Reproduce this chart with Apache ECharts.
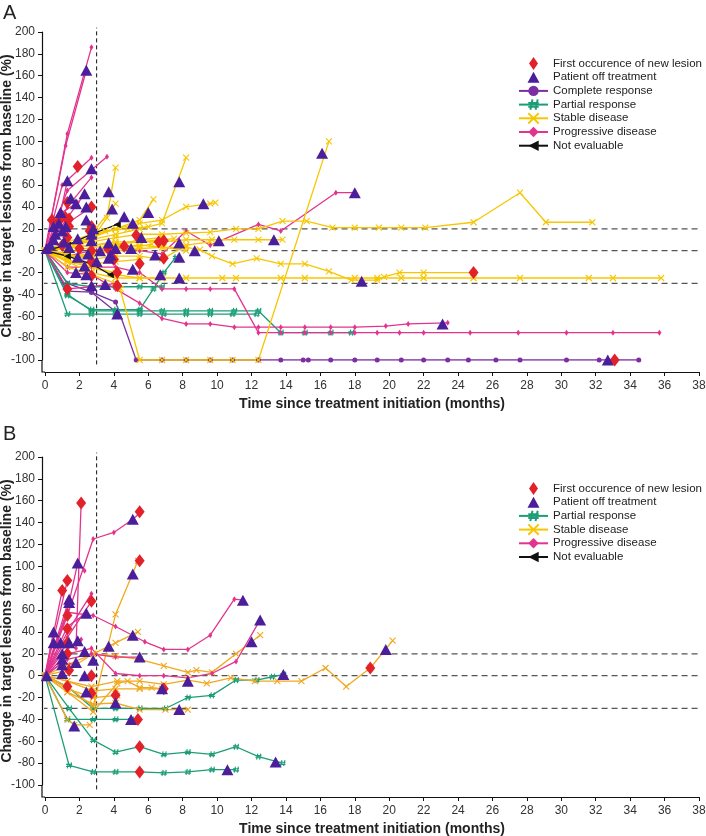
<!DOCTYPE html>
<html>
<head>
<meta charset="utf-8">
<script src="https://cdn.jsdelivr.net/npm/echarts@6/dist/echarts.min.js"></script>
<style>
  html, body { margin: 0; padding: 0; background: #fff; }
  #chart { width: 706px; height: 836px; }
</style>
</head>
<body>
<div id="chart"></div>
<script>
// ---- panel A data (months, % change) ----
const aComplete = [
  [[0,0],[1.3,-37],[2.7,-38],[4.1,-47],[5.3,-100],[6.8,-100],[8.2,-100],[9.6,-100],[10.9,-100],[12.4,-100],[13.7,-100],[15.0,-100],[15.3,-100],[16.6,-100],[18.0,-100],[19.3,-100],[20.7,-100],[22.0,-100],[23.4,-100],[24.6,-100],[26.2,-100],[27.6,-100],[30.3,-100],[32.2,-100],[34.5,-100]],
  [[0,0],[1.3,-30],[2.7,-38],[4.2,-57]]
];
const aPartial = [
  [[0,0],[1.3,-40],[2.7,-55],[4.1,-55],[5.5,-55],[6.8,-55],[8.2,-55],[9.6,-55],[11.0,-55],[12.4,-55],[13.7,-75],[15.1,-75],[16.6,-75],[17.8,-75]],
  [[0,0],[1.3,-58],[2.7,-58],[4.1,-58],[5.5,-58],[6.9,-58],[8.2,-58],[9.6,-58],[10.9,-58],[12.3,-58]],
  [[0,0],[1.3,-41],[2.7,-54],[4.1,-54],[5.5,-54],[6.3,-35],[6.9,-20],[7.6,-6]],
  [[0,0],[1.3,-30],[2.7,-33],[4.1,-33],[5.5,-33],[6.8,-33]]
];
const aStable = [
  [[0,0],[1.3,5],[2.7,8],[4.1,12],[5.5,15],[6.8,15],[8.2,16],[9.6,17],[11.1,20],[12.4,20],[13.8,27],[15.2,27],[16.7,21],[18.0,21],[19.4,21],[20.7,21],[22.1,21],[24.9,26],[27.6,53],[29.1,26],[31.8,26]],
  [[0,0],[1.3,3],[2.7,5],[4.1,8],[5.5,8],[6.8,8],[8.2,10],[9.7,10],[11.0,10],[12.4,10],[13.8,10]],
  [[0,0],[1.3,-5],[2.7,-3],[4.1,0],[5.5,2],[6.8,3],[8.2,3],[9.0,1],[9.7,-5],[10.9,-12],[12.3,-7],[13.7,-12],[15.1,-12],[16.5,-19],[17.8,-27],[19.3,-27],[19.7,-24],[20.6,-20],[22.0,-20],[24.9,-20]],
  [[0,0],[1.3,-10],[2.7,-20],[4.1,-25],[5.5,-25],[6.8,-25],[8.2,-25],[10.3,-25],[11.1,-25],[13.7,-25],[15.1,-25],[18.0,-25],[19.3,-25],[20.7,-25],[22.0,-25],[24.9,-25],[27.6,-25],[31.6,-25],[33.0,-25],[35.8,-25]],
  [[0,0],[1.3,-10],[2.7,-15],[4.1,-20],[5.5,-100],[6.8,-100],[8.2,-100],[9.6,-100],[10.9,-100],[12.4,-100],[16.5,100]],
  [[0,0],[1.3,5],[2.7,10],[3.6,30],[4.1,76]],
  [[0,0],[1.3,8],[2.7,15],[4.1,43]],
  [[0,0],[1.3,5],[2.7,15],[4.1,20],[5.5,28],[6.3,47]],
  [[0,0],[1.3,3],[2.7,10],[4.1,15],[5.5,20],[6.8,25],[8.2,85]],
  [[0,0],[1.3,5],[2.7,12],[4.1,20],[5.5,25],[6.8,28],[8.2,40],[9.6,43],[9.9,44]],
  [[0,0],[1.3,-8],[2.7,-15],[4.1,-22],[5.5,-25],[6.8,-25]],
  [[0,0],[1.3,-3],[2.7,-8],[4.1,-5],[5.5,-5],[6.8,-8],[8.2,5],[9.6,8]],
  [[0,0],[1.3,-15],[2.7,-22],[4.1,-30],[4.4,-35]],
  [[0,0],[1.3,-10],[2.7,-12],[4.1,-10],[5.5,-8]],
  [[0,0],[1.3,-6],[2.7,-4],[4.1,5],[5.5,10],[6.8,12]],
  [[0,0],[1.3,2],[2.7,5],[4.1,6],[5.5,8],[6.8,10],[7.5,11]],
  [[0,0],[1.3,-2],[2.7,3],[4.1,4],[5.5,5],[6.9,3],[8.2,0]],
  [[0,0],[1.3,-4],[2.7,-6],[4.1,2],[5.5,4],[6.2,6]],
  [[0,0],[1.3,6],[2.7,12],[3.5,18],[4.8,20],[6.0,22]]
];
const aProgressive = [
  [[0,0],[1.3,107],[2.7,186]],
  [[0,0],[1.2,96],[2.4,165]],
  [[0,0],[1.0,60],[2.7,85]],
  [[0,0],[1.3,55],[3.6,86]],
  [[0,0],[1.3,40],[2.7,67]],
  [[0,0],[1.3,-15],[2.7,-15],[4.1,-15],[5.5,-20],[6.8,-35],[8.2,-35],[9.6,-35],[11.0,-35],[12.4,-75],[13.7,-75],[15.1,-75],[16.6,-75],[18.0,-75],[19.3,-75],[20.6,-75],[22.0,-75],[24.7,-75],[27.5,-75],[30.3,-75],[33.0,-75],[35.7,-75]],
  [[0,0],[1.3,-20],[2.7,-22],[4.1,-35],[5.5,-48],[6.8,-62],[8.2,-67],[9.6,-67],[11.0,-70],[12.4,-70],[13.7,-70],[15.1,-70],[16.6,-70],[18.0,-70],[19.8,-69],[21.1,-67],[23.4,-66]],
  [[0,0],[1.3,-5],[2.7,0],[4.1,3],[5.5,0],[6.8,-3],[8.2,18],[9.6,5],[12.4,24],[13.7,18],[16.9,53],[18.0,53]],
  [[0,0],[1.3,30],[2.3,52]],
  [[0,0],[1.0,35],[1.9,44]],
  [[0,0],[0.7,20],[1.3,64]],
  [[0,0],[1.3,25],[2.7,40]],
  [[0,0],[1.3,-35],[2.7,-33],[4.1,-30]]
];
const aNotEvaluable = [
  [[0,0],[1.3,5],[2.7,15],[4.2,24]],
  [[0,0],[1.3,-5],[2.7,-12],[3.8,-22]]
];
const aNewLesion = [[0.4,28],[0.8,27],[1.2,30],[1.9,77],[1.3,44],[1.4,29],[1.4,22],[2.7,40],[2.7,22],[2.6,18],[1.3,-35],[2.7,-23],[4.2,-20],[4.2,-32],[4.6,4],[5.3,14],[5.5,-12],[6.6,8],[6.9,9],[6.9,-7],[24.9,-20],[33.1,-100],[1.3,12],[1.0,5],[2.0,2],[2.7,0],[3.7,1],[4.0,-8],[2.7,-10]];
const aOffTreatment = [[0.1,2],[0.5,22],[0.6,15],[0.9,35],[1.0,18],[1.1,8],[1.3,64],[1.5,48],[1.8,43],[1.9,11],[2.3,52],[2.4,40],[2.4,28],[2.4,165],[2.7,75],[2.7,15],[2.7,9],[2.5,-3],[1.9,-6],[1.8,-20],[2.3,-14],[2.4,-22],[2.7,-32],[3.5,-31],[3.7,54],[3.9,38],[3.7,7],[3.8,-4],[4.1,2],[4.6,31],[5.1,25],[5.1,-17],[5.0,2],[5.6,12],[6.0,35],[6.4,-4],[6.7,-22],[7.8,63],[7.8,7],[8.7,0],[7.8,-25],[7.8,-6],[9.2,43],[10.1,9],[13.3,10],[16.1,89],[18.0,53],[18.4,-28],[23.1,-67],[32.7,-100],[4.2,-58],[3.2,0],[1.2,22],[0.8,25],[0.5,10],[0.3,5],[1.4,3],[2.8,20],[3.7,-7],[3.0,-10]];

// ---- panel B data ----
const bPartial = [
  [[0,0],[1.4,-82],[2.8,-88],[4.1,-88],[5.5,-88],[6.9,-89],[8.3,-88],[9.7,-86],[11.1,-86]],
  [[0,0],[1.4,-30],[2.8,-59],[4.1,-70],[5.5,-65],[6.9,-72],[8.3,-70],[9.7,-72],[11.1,-65],[12.4,-74],[13.8,-80]],
  [[0,0],[1.3,-40],[2.8,-40],[4.1,-40],[5.0,-40]],
  [[0,0],[1.3,-10],[2.8,-30],[4.1,-30],[5.5,-30],[7.0,-30],[8.3,-20],[9.7,-18],[11.1,-4],[12.3,-4],[13.2,-1],[13.85,1]]
];
const bStable = [
  [[0,0],[1.3,-10],[2.8,-28],[4.1,56],[5.4,105]],
  [[0,0],[1.3,10],[2.8,20],[4.1,30],[5.4,40]],
  [[0,0],[1.3,5],[2.8,20],[4.1,18],[5.5,15],[6.9,9],[8.3,3],[8.8,5],[9.7,3],[11.1,20],[12.5,37]],
  [[0,0],[1.3,-5],[2.7,-10],[4.2,-5],[5.5,-5],[6.9,-8],[8.3,-4],[9.4,-7],[10.8,-2],[12.2,-5],[13.5,-5],[14.9,-5],[16.3,7],[17.5,-10],[18.9,7],[20.2,32]],
  [[0,0],[1.3,-15],[2.8,-33],[4.2,-7],[4.8,-5],[5.5,-11],[6.2,-11],[6.9,-12]],
  [[0,0],[1.3,-12],[2.8,-20],[4.2,-18]],
  [[0,0],[1.3,-15],[2.8,-26],[4.1,-25],[5.5,-31],[7.0,-31],[8.3,-31]],
  [[0,0],[1.3,-40],[1.7,-45],[2.6,-45]],
  [[0,0],[1.3,-5],[2.8,-14],[4.1,-12],[5.5,-12],[6.8,-12]]
];
const bProgressive = [
  [[0,0],[1.3,30],[1.8,25],[2.1,158]],
  [[0,0],[1.3,55],[2.8,125],[4.0,131],[5.1,143],[5.6,150]],
  [[0,0],[1.3,60],[1.9,103],[2.3,96]],
  [[0,0],[1.3,58],[2.8,55],[4.1,45],[5.8,31],[6.9,24],[8.3,24],[9.6,37],[11.0,70],[11.5,69]],
  [[0,0],[1.3,20],[2.7,25],[4.1,2],[5.5,0],[6.9,0],[8.3,-2],[9.7,2],[11.1,13],[12.5,51]],
  [[0,0],[1.3,15],[2.7,20],[4.1,17],[5.5,17]],
  [[0,0],[1.0,78]],
  [[0,0],[1.3,87]],
  [[0,0],[1.4,70]],
  [[0,0],[1.3,40],[2.7,75]],
  [[0,0],[1.3,35],[2.7,68]],
  [[0,0],[1.3,45],[2.4,57]],
  [[0,0],[0.5,40]],
  [[0,0],[1.0,20],[1.9,32],[2.1,33]],
  [[0,0],[1.0,12],[1.8,10]]
];
const bNewLesion = [[1.0,78],[1.3,87],[1.3,55],[1.3,43],[1.3,30],[1.3,20],[1.3,-10],[1.4,5],[2.1,158],[2.7,68],[2.7,0],[2.7,-16],[4.1,-18],[5.5,150],[5.5,105],[5.4,-40],[5.5,-65],[5.5,-88],[6.9,-12],[18.9,7]];
const bOffTreatment = [[0.1,0],[0.5,40],[0.5,30],[0.9,30],[1.0,20],[1.0,15],[1.0,10],[1.0,2],[1.4,70],[1.4,67],[1.4,30],[1.9,103],[1.9,32],[1.8,12],[2.4,57],[2.3,22],[2.3,0],[2.4,-15],[2.8,14],[3.7,27],[4.1,-25],[5.1,143],[5.1,93],[5.1,37],[5.5,17],[5.0,-40],[1.7,-46],[6.8,-12],[7.8,-31],[8.3,-5],[10.6,-86],[11.5,69],[12.0,31],[12.5,51],[13.4,-79],[13.85,1],[19.8,24]];

// reference levels
const hLines = [20, 0, -30];
const vLine = 3;

const NAMES = {
  lesion: 'First occurence of new lesion',
  off: 'Patient off treatment',
  cr: 'Complete response',
  pr: 'Partial response',
  sd: 'Stable disease',
  pd: 'Progressive disease',
  ne: 'Not evaluable'
};

const SYM = {
  cross: 'path://M0,0 L10,10 M10,0 L0,10',
  hash: 'path://M4,0 L2,10 M9,0 L7,10 M0,3.5 L10,3.5 M0,7 L10,7',
  left: 'path://M0,5 L10,0 L10,10 Z'
};

// legend icons padded to the full 29x13 item box so they are not stretched
const LEGEND_ICON = {
  diamond: 'path://M0,6.5 L0.01,6.5 Z M14.5,0 L19,6.5 L14.5,13 L10,6.5 Z M28.99,6.5 L29,6.5 Z',
  triangle: 'path://M0,0 L0.01,0 Z M14.5,1 L20.5,12 L8.5,12 Z M28.99,13 L29,13 Z'
};

// axis offsets (px) - the axes sit a little away from the data area
const Y_OFFSET = 3;
const X_OFFSET = 12;

function lineGroup(lines, name, color, symbol, size, stroke, panel) {
  return lines.map((pts) => ({
    type: 'line',
    name: name,
    xAxisIndex: panel,
    yAxisIndex: panel,
    data: pts,
    symbol: symbol,
    symbolSize: size,
    showSymbol: true,
    lineStyle: { color: color, width: 1.3 },
    itemStyle: stroke
      ? { color: 'rgba(0,0,0,0)', borderColor: color, borderWidth: 1.1 }
      : { color: color, borderWidth: 0 },
    emphasis: { disabled: true },
    silent: true,
    animation: false,
    z: 2
  }));
}

function refLines(panel) {
  const out = hLines.map((v) => ({
    type: 'line',
    xAxisIndex: panel,
    yAxisIndex: panel,
    data: [[-0.2, v], [38, v]],
    symbol: 'none',
    clip: false,
    lineStyle: { color: '#555', width: 1.3, type: [6, 4] },
    silent: true,
    animation: false,
    z: 1
  }));
  out.push({
    type: 'line',
    xAxisIndex: panel,
    yAxisIndex: panel,
    data: [[vLine, -104], [vLine, 204]],
    symbol: 'none',
    clip: false,
    lineStyle: { color: '#111', width: 1, type: [4, 3] },
    silent: true,
    animation: false,
    z: 1
  });
  return out;
}

function markers(pts, name, panel) {
  const isLesion = name === NAMES.lesion;
  return {
    type: 'scatter',
    name: name,
    xAxisIndex: panel,
    yAxisIndex: panel,
    data: pts,
    symbol: isLesion ? 'diamond' : 'triangle',
    symbolSize: isLesion ? [10, 13] : [12, 11],
    itemStyle: { color: isLesion ? '#E2222B' : '#4B1E9B', opacity: 1 },
    silent: true,
    animation: false,
    z: isLesion ? 4 : 5
  };
}

const axisFont = { fontFamily: 'Liberation Sans', fontSize: 12, color: '#333' };
const titleFont = { fontFamily: 'Liberation Sans', fontSize: 14, fontWeight: 'bold', color: '#222' };

function xAx(i) {
  return {
    gridIndex: i, type: 'value', min: 0, max: 38, interval: 2, offset: X_OFFSET,
    axisLine: { show: true, onZero: false, lineStyle: { color: '#111', width: 1.2 } },
    axisTick: { show: true, length: 4, lineStyle: { color: '#111' } },
    axisLabel: Object.assign({ margin: 8 }, axisFont),
    splitLine: { show: false },
    name: 'Time since treatment initiation (months)',
    nameLocation: 'middle', nameGap: 25, nameMoveOverlap: false,
    nameTextStyle: titleFont
  };
}
function yAx(i) {
  return {
    gridIndex: i, type: 'value', min: -100, max: 200, interval: 20, offset: Y_OFFSET,
    axisLine: { show: true, onZero: false, lineStyle: { color: '#111', width: 1.2 } },
    axisTick: { show: true, length: 4, lineStyle: { color: '#111' } },
    axisLabel: Object.assign({ margin: 7 }, axisFont),
    splitLine: { show: false },
    name: 'Change in target lesions from baseline (%)',
    nameLocation: 'middle', nameGap: 28, nameRotate: 90, nameMoveOverlap: false,
    nameTextStyle: titleFont
  };
}

const YELLOW = '#F7C600';
const ORANGE = '#F2A81E';
const GREEN = '#1B9E77';
const PINK = '#E2348E';
const PURPLE = '#7B2FA0';

const series = [].concat(
  refLines(0),
  lineGroup(aComplete, NAMES.cr, PURPLE, 'circle', 5, false, 0),
  lineGroup(aPartial, NAMES.pr, GREEN, SYM.hash, 6, true, 0),
  lineGroup(aProgressive, NAMES.pd, PINK, 'diamond', [4, 6], false, 0),
  lineGroup(aStable, NAMES.sd, YELLOW, SYM.cross, 6, true, 0),
  lineGroup(aNotEvaluable, NAMES.ne, '#111', SYM.left, 7, false, 0),
  [markers(aNewLesion, NAMES.lesion, 0), markers(aOffTreatment, NAMES.off, 0)],
  refLines(1),
  lineGroup(bPartial, NAMES.pr, GREEN, SYM.hash, 6, true, 1),
  lineGroup(bStable, NAMES.sd, ORANGE, SYM.cross, 6, true, 1),
  lineGroup(bProgressive, NAMES.pd, PINK, 'diamond', [4, 6], false, 1),
  [markers(bNewLesion, NAMES.lesion, 1), markers(bOffTreatment, NAMES.off, 1)]
);

const legendBase = {
  orient: 'vertical', left: 518, padding: 0, itemWidth: 29, itemHeight: 13, itemGap: 0.7,
  selectedMode: false,
  textStyle: { fontFamily: 'Liberation Sans', fontSize: 11.5, color: '#222', lineHeight: 13 }
};
const lesionItem = { name: NAMES.lesion, icon: LEGEND_ICON.diamond };
const offItem = { name: NAMES.off, icon: LEGEND_ICON.triangle };

const chart = echarts.init(document.getElementById('chart'), null, { renderer: 'canvas' });
chart.setOption({
  animation: false,
  backgroundColor: '#fff',
  grid: [
    { left: 45, right: 7, top: 32, height: 328, containLabel: false, outerBoundsMode: 'none' },
    { left: 45, right: 7, top: 457, height: 328, containLabel: false, outerBoundsMode: 'none' }
  ],
  xAxis: [xAx(0), xAx(1)],
  yAxis: [yAx(0), yAx(1)],
  legend: [
    Object.assign({}, legendBase, { top: 57, data: [lesionItem, offItem, NAMES.cr, NAMES.pr, NAMES.sd, NAMES.pd, NAMES.ne] }),
    Object.assign({}, legendBase, { top: 482, data: [lesionItem, offItem, NAMES.pr, NAMES.sd, NAMES.pd, NAMES.ne] })
  ],
  series: series
});

// join the offset axes at the bottom-left corner, like the original figure
const corners = [0, 1].map((g) => {
  const p = chart.convertToPixel({ gridIndex: g }, [0, -100]);
  const x0 = p[0] - Y_OFFSET, y0 = p[1] + X_OFFSET;
  return {
    type: 'polyline',
    silent: true,
    shape: { points: [[x0, p[1]], [x0, y0], [p[0], y0]] },
    style: { stroke: '#111', lineWidth: 1.2, fill: null }
  };
});

chart.setOption({
  graphic: [
    { type: 'text', left: 3, top: 3, style: { text: 'A', font: '20px Liberation Sans', fill: '#222' } },
    { type: 'text', left: 3, top: 424, style: { text: 'B', font: '20px Liberation Sans', fill: '#222' } }
  ].concat(corners)
});
</script>
</body>
</html>
